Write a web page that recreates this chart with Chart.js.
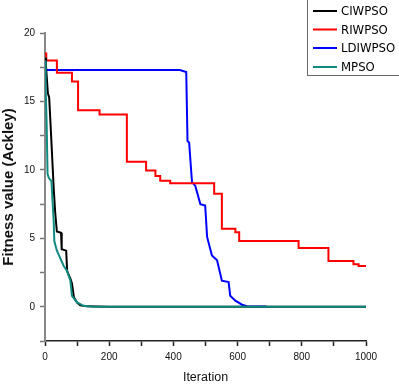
<!DOCTYPE html>
<html>
<head>
<meta charset="utf-8">
<script src="https://cdn.jsdelivr.net/npm/chart.js@4/dist/chart.umd.min.js"></script>
<style>
html,body{margin:0;padding:0;background:#fff;}
#wrap{width:399px;height:385px;position:relative;}
</style>
</head>
<body>
<div id="wrap"><canvas id="c" width="399" height="385"></canvas></div>
<script>
// ---- data ----
const seriesNames = ['CIWPSO', 'RIWPSO', 'LDIWPSO', 'MPSO'];
const seriesColors = ['#000000', '#ff0000', '#0000ff', '#0f8a80'];

const ciwpsoIter = [0, 3, 9, 13, 18, 27, 32, 37, 50, 52, 66, 69, 80, 84, 90, 100, 110, 130, 200, 1000];
const ciwpsoFit  = [18.2, 17.6, 15.6, 15.3, 13.0, 8.7, 6.8, 5.5, 5.4, 4.2, 4.1, 2.6, 2.0, 1.7, 0.7, 0.3, 0.1, 0.03, 0.0, 0.0];

const riwpsoIter = [0, 4, 37, 84, 103, 170, 255, 315, 344, 359, 390, 527, 551, 593, 605, 790, 883, 961, 977, 1000];
const riwpsoFit  = [18.5, 18.0, 17.1, 16.45, 14.35, 14.05, 10.6, 9.95, 9.55, 9.2, 9.03, 8.25, 5.7, 5.45, 4.8, 4.3, 3.35, 3.1, 2.98, 2.98];

const ldiwpsoIter = [0, 5, 420, 440, 444, 449, 458, 468, 484, 499, 505, 520, 536, 551, 572, 577, 593, 614, 629, 690];
const ldiwpsoFit  = [17.45, 17.3, 17.3, 17.15, 12.1, 12.0, 9.1, 8.85, 7.5, 7.4, 5.1, 3.75, 3.4, 1.9, 1.8, 0.8, 0.45, 0.15, 0.04, 0.02];

const mpsoIter = [0, 2, 5, 8, 12, 20, 27, 29, 37, 58, 69, 79, 84, 100, 120, 150, 1000];
const mpsoFit  = [18.0, 16.0, 13.5, 9.7, 9.4, 9.2, 6.3, 4.8, 4.1, 3.0, 2.6, 1.9, 0.8, 0.32, 0.07, 0.01, 0.0];

const xTickLabels = [0, 200, 400, 600, 800, 1000];
const yTickLabels = [0, 5, 10, 15, 20];

// ---- build ----
const toPts = (xs, ys) => xs.map((x, i) => ({x: x, y: ys[i]}));
const iters = [ciwpsoIter, riwpsoIter, ldiwpsoIter, mpsoIter];
const fits = [ciwpsoFit, riwpsoFit, ldiwpsoFit, mpsoFit];
const drawOrder = [1, 2, 3, 0];

const datasets = seriesNames.map((name, i) => ({
  label: name,
  data: toPts(iters[i], fits[i]),
  borderColor: seriesColors[i],
  backgroundColor: seriesColors[i],
  borderWidth: 2,
  pointRadius: 0,
  tension: 0,
  fill: false,
  stepped: name === 'RIWPSO' ? true : false,
  order: drawOrder[i]
}));

const sans = '"Liberation Sans", Arial, sans-serif';
const condensed = '"DejaVu Sans Condensed", "Liberation Sans", sans-serif';

const boxLegend = {
  id: 'boxLegend',
  afterDraw(chart) {
    const ctx = chart.ctx;
    ctx.save();
    ctx.strokeStyle = '#6a6a6a';
    ctx.lineWidth = 1;
    ctx.strokeRect(307.5, -2, 100, 77.5);
    ctx.font = '13px ' + condensed;
    ctx.textBaseline = 'middle';
    ctx.textAlign = 'left';
    const rows = [11, 29.5, 48, 67];
    chart.data.datasets.forEach((ds, i) => {
      ctx.strokeStyle = ds.borderColor;
      ctx.lineWidth = 2;
      ctx.beginPath();
      ctx.moveTo(313, rows[i]);
      ctx.lineTo(337, rows[i]);
      ctx.stroke();
      ctx.fillStyle = '#000';
      ctx.fillText(ds.label, 341, rows[i] + 1);
    });
    ctx.restore();
  }
};

new Chart(document.getElementById('c'), {
  type: 'line',
  data: { datasets: datasets },
  plugins: [boxLegend],
  options: {
    responsive: false,
    animation: false,
    layout: { padding: { top: 33, right: 33, left: 0, bottom: 0 } },
    plugins: {
      legend: { display: false },
      tooltip: { enabled: false }
    },
    scales: {
      x: {
        type: 'linear',
        min: 0,
        max: 1000,
        afterFit(s) { s.height = 44; },
        border: { display: true, color: '#222', width: 1.5 },
        grid: { drawOnChartArea: false, drawTicks: true, tickLength: 5, tickColor: '#222', tickWidth: 1.5 },
        ticks: {
          stepSize: 100,
          padding: 5,
          color: '#111',
          font: { family: sans, size: 10 },
          maxRotation: 0,
          autoSkip: false,
          callback: (v) => xTickLabels.includes(v) ? String(v) : ''
        },
        title: {
          display: true,
          text: 'Iteration',
          color: '#111',
          font: { family: sans, size: 12.5 },
          padding: { top: 0, bottom: 0 }
        }
      },
      y: {
        type: 'linear',
        min: -2.5,
        max: 20,
        afterFit(s) { s.width = 45; },
        border: { display: true, color: '#888', width: 2 },
        grid: { drawOnChartArea: false, drawTicks: true, tickLength: 5, tickColor: '#777', tickWidth: 1.5 },
        ticks: {
          stepSize: 2.5,
          padding: 5,
          color: '#111',
          font: { family: sans, size: 10 },
          autoSkip: false,
          callback: (v) => yTickLabels.includes(v) ? String(v) : ''
        },
        title: {
          display: true,
          text: 'Fitness value (Ackley)',
          color: '#111',
          font: { family: sans, size: 15, weight: 'bold' },
          padding: { top: 0, bottom: 0 }
        }
      }
    }
  }
});
</script>
</body>
</html>
